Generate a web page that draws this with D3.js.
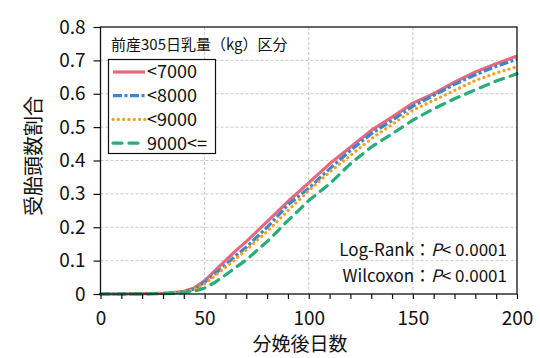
<!DOCTYPE html>
<html><head><meta charset="utf-8">
<script src="https://cdn.jsdelivr.net/npm/d3@7"></script>
<style>body{margin:0;background:#fff}svg{display:block}</style>
</head><body>
<svg id="c" width="540" height="358"></svg>
<script>
const days = [0,10,20,30,35,40,45,50,55,60,65,70,75,80,85,90,95,100,110,120,130,140,150,160,170,180,190,200];
const s7000 = [0,0,0.001,0.002,0.004,0.008,0.018,0.04,0.07,0.10,0.13,0.157,0.187,0.217,0.247,0.277,0.305,0.333,0.39,0.44,0.49,0.53,0.572,0.60,0.635,0.665,0.69,0.713];
const s8000 = [0,0,0.001,0.002,0.003,0.007,0.015,0.035,0.06,0.087,0.115,0.14,0.17,0.20,0.233,0.267,0.292,0.317,0.375,0.43,0.48,0.52,0.563,0.595,0.628,0.657,0.682,0.703];
const s9000 = [0,0,0.001,0.002,0.003,0.006,0.013,0.03,0.055,0.08,0.105,0.132,0.16,0.187,0.218,0.25,0.28,0.31,0.365,0.415,0.465,0.508,0.551,0.58,0.61,0.64,0.662,0.681];
const s9000up = [0,0,0,0.001,0.002,0.004,0.008,0.018,0.035,0.057,0.08,0.102,0.13,0.157,0.188,0.22,0.25,0.28,0.33,0.39,0.44,0.48,0.521,0.555,0.585,0.612,0.638,0.66];
const seriesNames = ["<7000","<8000","<9000","9000<="];
const xTicks = [0,50,100,150,200];
const yTicks = [0,0.1,0.2,0.3,0.4,0.5,0.6,0.7,0.8];
const legendTitle = "前産305日乳量（kg）区分";
const xTitle = "分娩後日数";
const yTitle = "受胎頭数割合";

const series = [
  {name: seriesNames[0], values: s7000, color: "#E8687B", dash: null, cap: "butt", w: 3.2},
  {name: seriesNames[1], values: s8000, color: "#3B86CF", dash: "9,2.5,3,2.5", cap: "butt", w: 3.2},
  {name: seriesNames[2], values: s9000, color: "#F5A01A", dash: "0.1,5.2", cap: "round", w: 3.2},
  {name: seriesNames[3], values: s9000up, color: "#27AE76", dash: "9,7", cap: "round", w: 3.2}
];

const FONT = "'Noto Sans CJK JP','Noto Sans',sans-serif";
const svg = d3.select("#c");
const L = 100.5, R = 517, T = 27, B = 294;
const x = d3.scaleLinear().domain([0,200]).range([L,R]);
const y = d3.scaleLinear().domain([0,0.8]).range([B,T]);

// grid
const grid = svg.append("g").attr("stroke","#c8c8c8").attr("stroke-width",1).attr("stroke-dasharray","3,2");
grid.selectAll("line.v").data(xTicks.filter(d=>d>0&&d<200)).join("line")
  .attr("x1",d=>x(d)).attr("x2",d=>x(d)).attr("y1",T).attr("y2",B);
grid.selectAll("line.h").data(yTicks.filter(d=>d>0&&d<0.8)).join("line")
  .attr("x1",L).attr("x2",R).attr("y1",d=>y(d)).attr("y2",d=>y(d));

// lines
const line = d3.line().x((d,i)=>x(days[i])).y(d=>y(d));
series.forEach(s=>{
  svg.append("path").datum(s.values).attr("d",line).attr("fill","none")
    .attr("stroke",s.color).attr("stroke-width",s.w).attr("stroke-linecap",s.cap)
    .attr("stroke-linejoin","round")
    .attr("stroke-dasharray",s.dash);
});

// frame
svg.append("rect").attr("x",L).attr("y",T).attr("width",R-L).attr("height",B-T)
  .attr("fill","none").attr("stroke","#111").attr("stroke-width",1.3);

// axes
const xAxis = d3.axisBottom(x).tickValues(d3.range(0,201,10)).tickSize(5).tickPadding(13)
  .tickFormat(d=>xTicks.includes(d)?d3.format("d")(d):"");
const gx = svg.append("g").attr("transform",`translate(0,${B})`).call(xAxis);
gx.select(".domain").remove();
gx.selectAll("line").attr("stroke","#111").attr("stroke-width",1.2);
gx.selectAll("text").attr("font-family",FONT).attr("font-size",19).attr("fill","#111");

const yAxis = d3.axisLeft(y).tickValues(yTicks).tickSize(7).tickPadding(8).tickFormat(d=>d===0?"0":d3.format(".1f")(d));
const gy = svg.append("g").attr("transform",`translate(${L},0)`).call(yAxis);
gy.select(".domain").remove();
gy.selectAll("line").attr("stroke","#111").attr("stroke-width",1.2);
gy.selectAll("text").attr("font-family",FONT).attr("font-size",19).attr("fill","#111");

// titles
svg.append("text").attr("x",300).attr("y",351).attr("text-anchor","middle")
  .attr("font-family",FONT).attr("font-size",19).attr("fill","#111").text(xTitle);
svg.append("text").attr("transform","translate(41,156) rotate(-90)").attr("text-anchor","middle")
  .attr("font-family",FONT).attr("font-size",20).attr("fill","#111").text(yTitle);

// legend
svg.append("text").attr("x",111).attr("y",50).attr("font-family",FONT).attr("font-size",15)
  .attr("fill","#111").text(legendTitle);
svg.append("rect").attr("x",108.5).attr("y",59.5).attr("width",107).attr("height",94)
  .attr("fill","#fff").attr("stroke","#111").attr("stroke-width",1.2);
const lg = svg.append("g");
series.forEach((s,i)=>{
  const yy = 72 + i*23.7;
  lg.append("line").attr("x1",113).attr("x2",145).attr("y1",yy).attr("y2",yy)
    .attr("stroke",s.color).attr("stroke-width",s.w).attr("stroke-linecap",s.cap)
    .attr("stroke-dasharray",s.dash);
  lg.append("text").attr("x",147).attr("y",yy).attr("dy","0.36em").attr("font-family",FONT)
    .attr("font-size",18).attr("fill","#111").text(s.name);
});

// annotation
const ann = [["Log-Rank","：","P","< 0.0001"],["Wilcoxon","：","P","< 0.0001"]];
ann.forEach((a,i)=>{
  const t = svg.append("text").attr("x",507).attr("y",256+i*26).attr("text-anchor","end")
    .attr("font-family",FONT).attr("font-size",17).attr("fill","#111");
  t.append("tspan").text(a[0]);
  t.append("tspan").text(a[1]);
  t.append("tspan").attr("font-style","italic").text(a[2]);
  t.append("tspan").text(a[3]);
});
</script>
</body></html>
